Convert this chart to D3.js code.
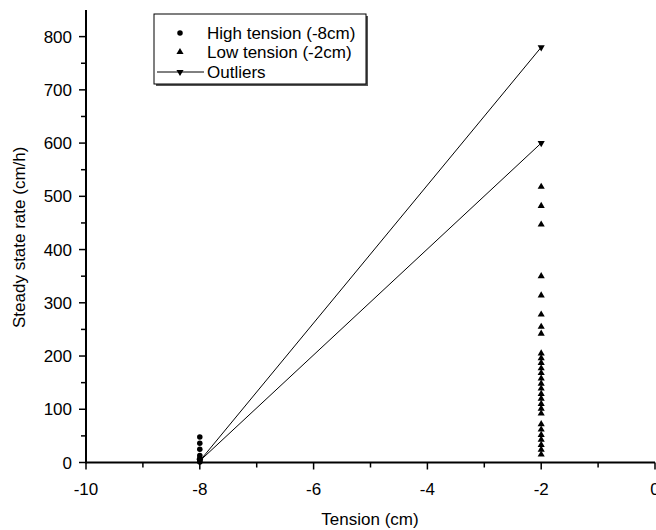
<!DOCTYPE html>
<html>
<head>
<meta charset="utf-8">
<script src="https://cdn.jsdelivr.net/npm/d3@7"></script>
<style>
  body { margin: 0; background: #fff; }
  text { font-family: "Liberation Sans", Arial, sans-serif; fill: #000; }
</style>
</head>
<body>
<svg id="chart" width="656" height="530"></svg>
<script>
// data
const highX = -8;
const highVals = [48, 36, 25, 13, 8, 5, 3, 1];
const lowX = -2;
const lowVals = [518, 482, 447, 350, 314, 278, 255, 242, 205, 196, 187, 177, 168, 158,
                 148, 139, 129, 120, 110, 101, 92, 72, 62, 52, 43, 33, 24, 15];
const outX = [-2, -8, -2];
const outY = [780, 3, 600];
const xTicks = [-10, -8, -6, -4, -2, 0];
const yTicks = [0, 100, 200, 300, 400, 500, 600, 700, 800];
const legendNames = ["High tension (-8cm)", "Low tension (-2cm)", "Outliers"];

const svg = d3.select("#chart");
const fs = 17;

const x = d3.scaleLinear().domain([-10, 0]).range([86, 655]);
const y = d3.scaleLinear().domain([0, 850]).range([462.5, 10]);

// x axis
const xAxis = svg.append("g").attr("transform", "translate(0," + y(0) + ")");
xAxis.append("line")
  .attr("x1", x(-10)).attr("x2", x(0))
  .attr("stroke", "#000").attr("stroke-width", 2);
xAxis.selectAll(".xmaj").data(xTicks).enter().append("line")
  .attr("x1", d => x(d)).attr("x2", d => x(d))
  .attr("y1", 0).attr("y2", 7)
  .attr("stroke", "#000").attr("stroke-width", 1.5);
xAxis.selectAll(".xmin").data(d3.range(-9, 0, 2)).enter().append("line")
  .attr("x1", d => x(d)).attr("x2", d => x(d))
  .attr("y1", 0).attr("y2", 5)
  .attr("stroke", "#000").attr("stroke-width", 1.5);
xAxis.selectAll(".xlab").data(xTicks).enter().append("text")
  .attr("x", d => x(d)).attr("y", 32)
  .attr("text-anchor", "middle").attr("font-size", fs)
  .text(d => d);

// y axis
const yAxis = svg.append("g").attr("transform", "translate(" + x(-10) + ",0)");
yAxis.append("line")
  .attr("y1", y(0) + 1).attr("y2", y(850))
  .attr("stroke", "#000").attr("stroke-width", 2);
yAxis.selectAll(".ymaj").data(yTicks).enter().append("line")
  .attr("y1", d => y(d)).attr("y2", d => y(d))
  .attr("x1", 0).attr("x2", -7)
  .attr("stroke", "#000").attr("stroke-width", 1.5);
yAxis.selectAll(".ymin").data(d3.range(50, 850, 100)).enter().append("line")
  .attr("y1", d => y(d)).attr("y2", d => y(d))
  .attr("x1", 0).attr("x2", -5)
  .attr("stroke", "#000").attr("stroke-width", 1.5);
yAxis.selectAll(".ylab").data(yTicks).enter().append("text")
  .attr("x", -14).attr("y", d => y(d) + 6)
  .attr("text-anchor", "end").attr("font-size", fs)
  .text(d => d);

// axis titles
svg.append("text")
  .attr("x", 370).attr("y", 525)
  .attr("text-anchor", "middle").attr("font-size", fs)
  .text("Tension (cm)");
svg.append("text")
  .attr("transform", "translate(25," + y(423) + ") rotate(-90)")
  .attr("text-anchor", "middle").attr("font-size", fs)
  .text("Steady state rate (cm/h)");

// outlier lines
const line = d3.line().x(d => x(d[0])).y(d => y(d[1]));
svg.append("path")
  .datum(outX.map((v, i) => [v, outY[i]]))
  .attr("d", line)
  .attr("fill", "none").attr("stroke", "#000").attr("stroke-width", 1);

const circ = d3.symbol().type(d3.symbolCircle).size(24);
const tri = d3.symbol().type(d3.symbolTriangle).size(22);

// high tension
svg.selectAll(".hi").data(highVals).enter().append("path")
  .attr("d", circ)
  .attr("transform", d => "translate(" + x(highX) + "," + y(d) + ")")
  .attr("fill", "#000");

// low tension
svg.selectAll(".lo").data(lowVals).enter().append("path")
  .attr("d", tri)
  .attr("transform", d => "translate(" + x(lowX) + "," + y(d) + ")")
  .attr("fill", "#000");

// outliers markers
svg.selectAll(".out").data(outY).enter().append("path")
  .attr("d", tri)
  .attr("transform", (d, i) => "translate(" + x(outX[i]) + "," + y(d) + ") rotate(180)")
  .attr("fill", "#000");

// legend
const lg = svg.append("g");
const lw = 212, lh = 70;
lg.append("rect")
  .attr("x", 156).attr("y", 16).attr("width", lw).attr("height", lh)
  .attr("fill", "#555");
lg.append("rect")
  .attr("x", 154).attr("y", 14).attr("width", lw).attr("height", lh)
  .attr("fill", "#fff").attr("stroke", "#000").attr("stroke-width", 1);
const rows = [33, 52, 72];
lg.append("path").attr("d", circ)
  .attr("transform", "translate(180," + rows[0] + ")").attr("fill", "#000");
lg.append("path").attr("d", tri)
  .attr("transform", "translate(180," + rows[1] + ")").attr("fill", "#000");
lg.append("line")
  .attr("x1", 157).attr("x2", 204).attr("y1", rows[2]).attr("y2", rows[2])
  .attr("stroke", "#000").attr("stroke-width", 1);
lg.append("path").attr("d", tri)
  .attr("transform", "translate(180," + rows[2] + ") rotate(180)").attr("fill", "#000");
lg.selectAll(".lt").data(legendNames).enter().append("text")
  .attr("x", 207).attr("y", (d, i) => rows[i] + 6)
  .attr("font-size", fs)
  .text(d => d);
</script>
</body>
</html>
